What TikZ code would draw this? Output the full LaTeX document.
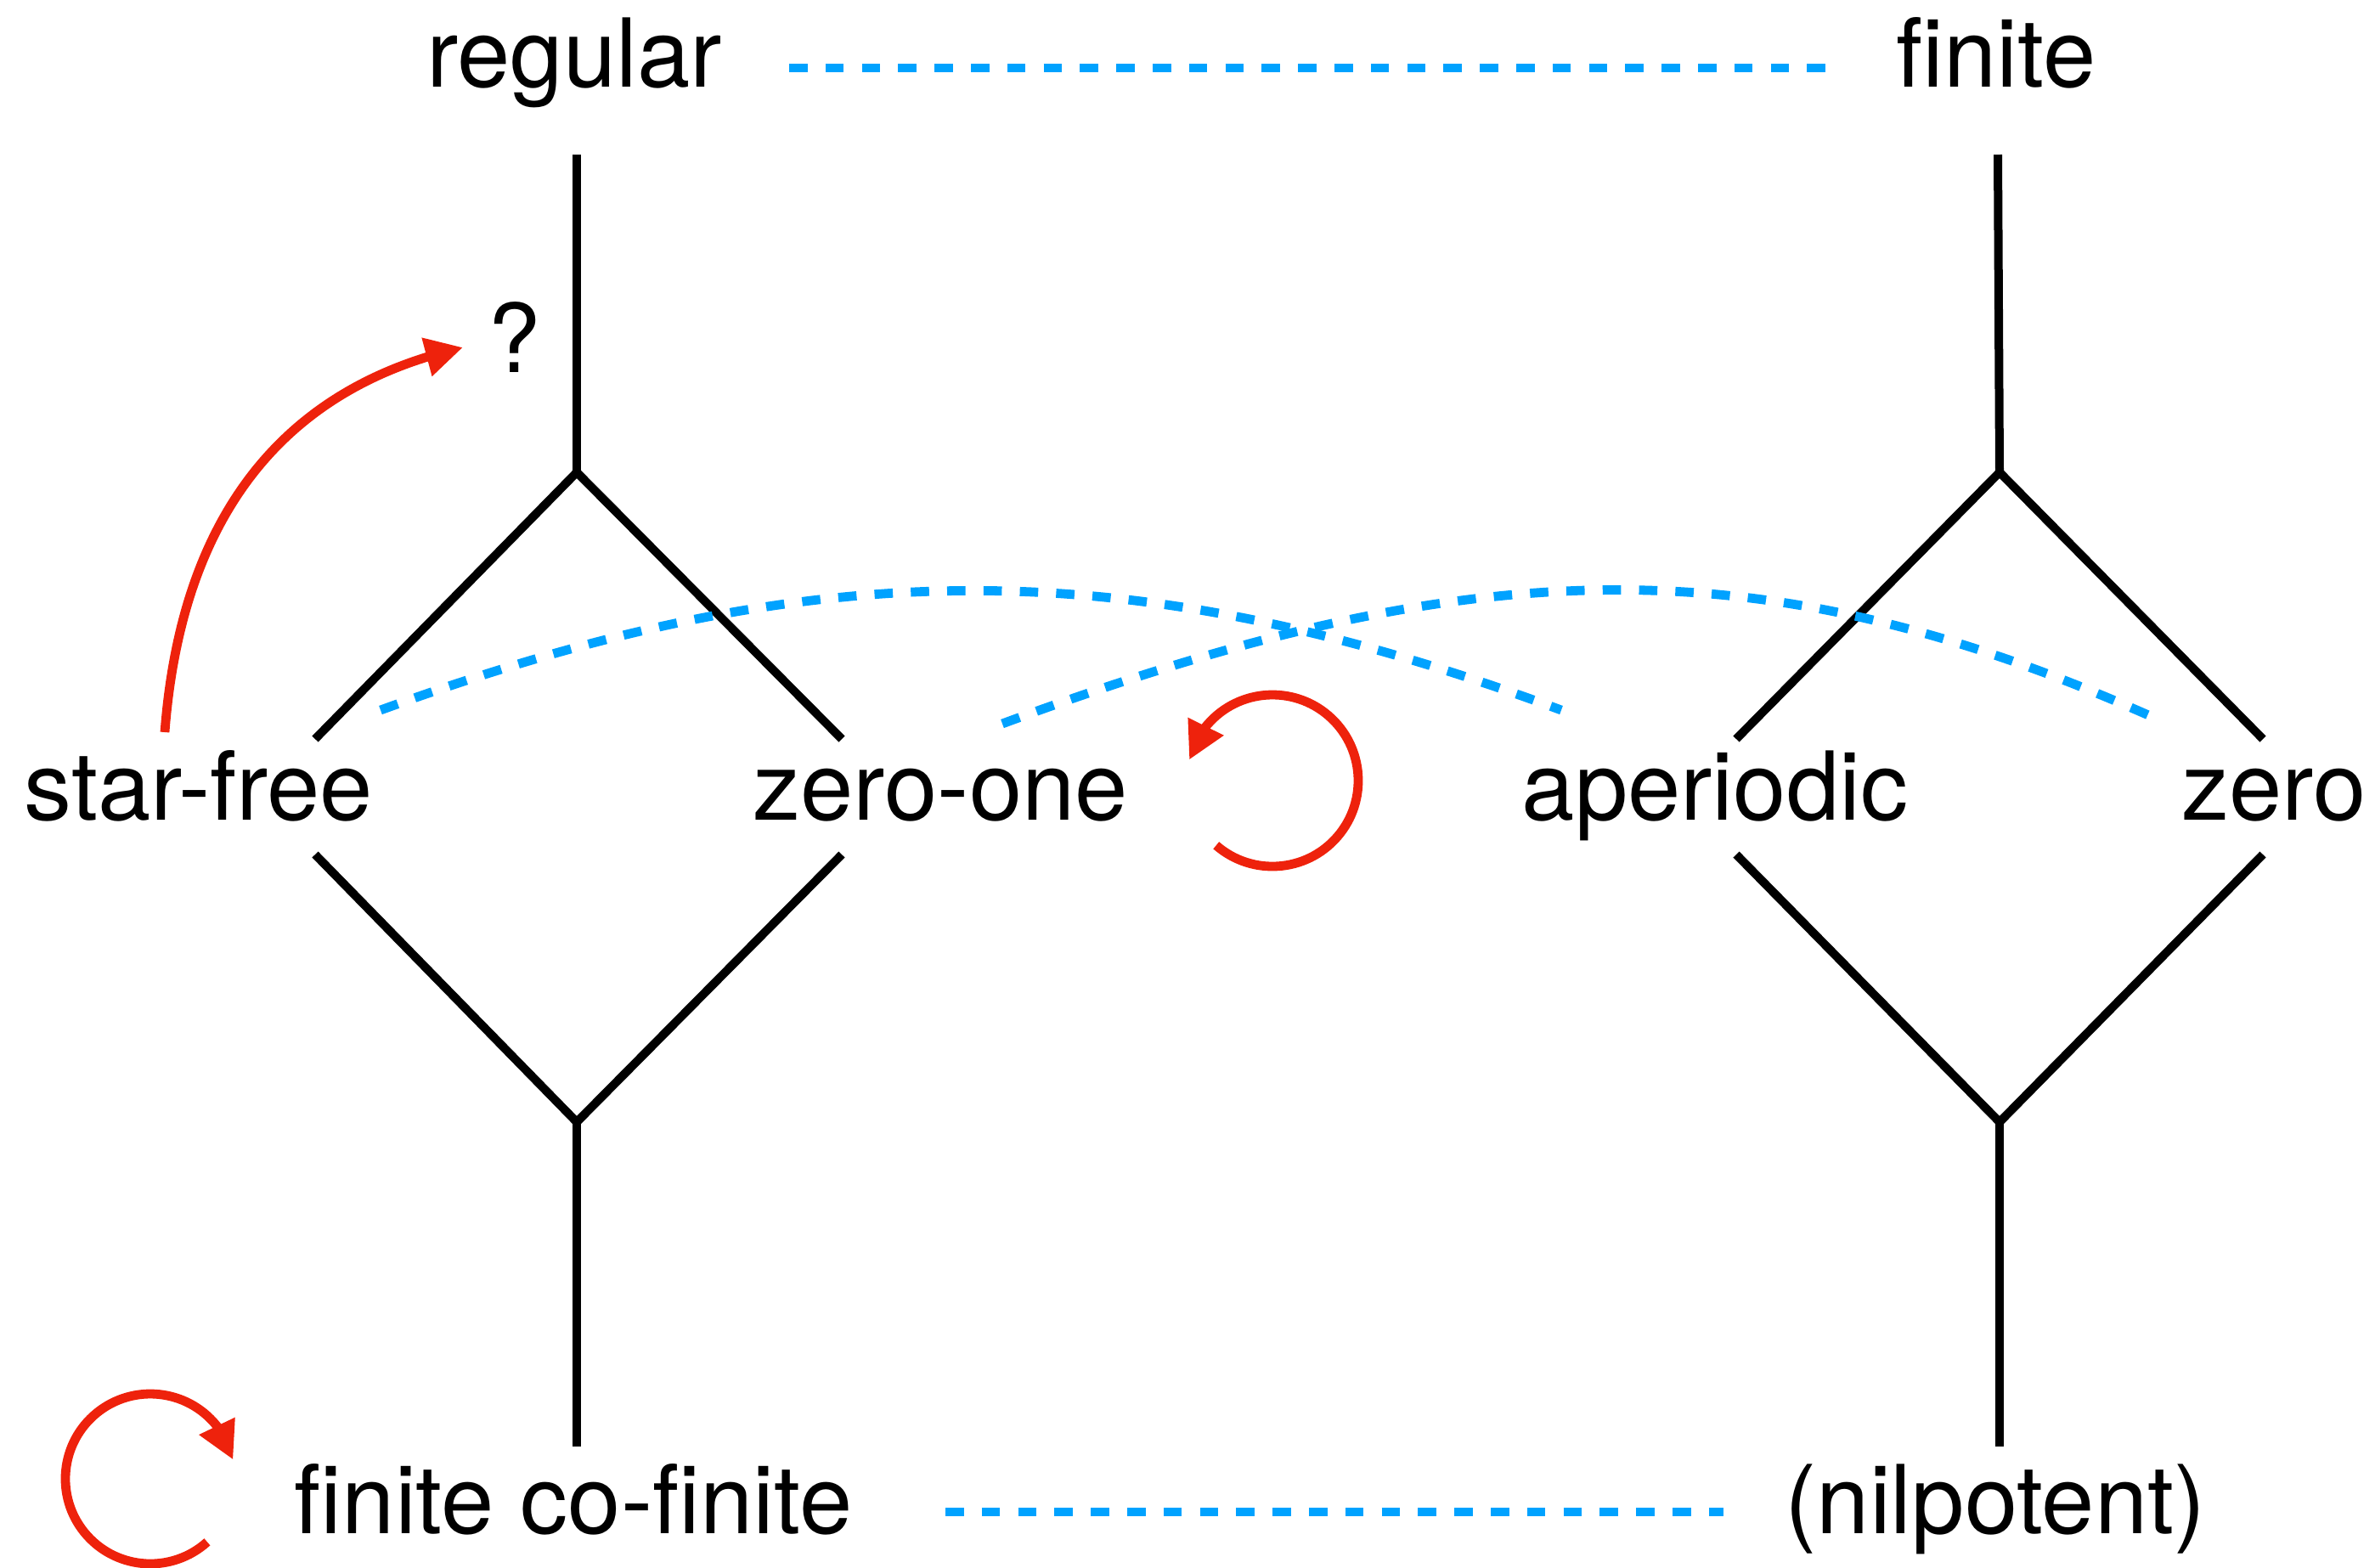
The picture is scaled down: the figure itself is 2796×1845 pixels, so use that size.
\documentclass[tikz,border=0pt]{standalone}
\usepackage{fontspec}
\setmainfont{TeX Gyre Heros}
\usetikzlibrary{arrows.meta,bending}
\definecolor{lineblue}{HTML}{00A2FF}
\definecolor{arrowred}{HTML}{EE220C}
\begin{document}
\begin{tikzpicture}[x=0.25pt,y=-0.25pt,
  lbl/.style={font=\fontsize{28}{33}\selectfont, inner sep=0pt, anchor=base},
  edge/.style={line width=2.5pt, black, line join=miter},
  rel/.style={line width=2.7pt, lineblue, dash pattern=on 5.4pt off 5.3pt},
  redarr/.style={line width=2.7pt, arrowred, -{Triangle[length=11pt,width=11pt]}}]
\useasboundingbox (0,0) rectangle (2796,1845);

% labels
\node[lbl] (reg) at (676,102) {regular};
\node[lbl] (fin) at (2350,102) {finite};
\node[lbl] (q) at (606,438) {?};
\node[lbl] (sf) at (234,965) {star-free};
\node[lbl] (zo) at (1107,965) {zero-one};
\node[lbl] (ap) at (2019,965) {aperiodic};
\node[lbl] (ze) at (2677,965) {zero};
\node[lbl] (fcf) at (675,1805) {finite co-finite};
\node[lbl] (nil) at (2349,1805) {(nilpotent)};

% left lattice
\coordinate (LT) at (679,182);
\coordinate (LA) at (679,556);
\coordinate (LL1) at (371,870);
\coordinate (LR1) at (991,870);
\coordinate (LL2) at (371,1006);
\coordinate (LR2) at (991,1006);
\coordinate (LB) at (679,1321);
\coordinate (LE) at (679,1703);
\draw[edge] (LT) -- (LA);
\draw[edge] (LL1) -- (LA) -- (LR1);
\draw[edge] (LL2) -- (LB) -- (LR2);
\draw[edge] (LB) -- (LE);

% right lattice
\coordinate (RT) at (2352,182);
\coordinate (RA) at (2354,556);
\coordinate (RL1) at (2044,870);
\coordinate (RR1) at (2664,870);
\coordinate (RL2) at (2044,1006);
\coordinate (RR2) at (2664,1006);
\coordinate (RB) at (2354,1321);
\coordinate (RE) at (2354,1703);
\draw[edge] (RT) -- (RA);
\draw[edge] (RL1) -- (RA) -- (RR1);
\draw[edge] (RL2) -- (RB) -- (RR2);
\draw[edge] (RB) -- (RE);

% blue correspondences
\coordinate (t1) at (929,80);
\coordinate (t2) at (2170,80);
\draw[rel] (t1) -- (t2);
\coordinate (b1) at (1113,1780);
\coordinate (b2) at (2029,1780);
\draw[rel] (b1) -- (b2);
\coordinate (c1s) at (448,836);
\coordinate (c1e) at (1838,836);
\draw[rel] (c1s) .. controls (959,650) and (1327,647) .. (c1e);
\coordinate (c2s) at (1180,852);
\coordinate (c2e) at (2545,849);
\draw[rel] (c2s) .. controls (1740,645) and (2080,640) .. (c2e);

% red arrows
\coordinate (a1s) at (194,862);
\coordinate (a1e) at (545,409);
\draw[redarr] (a1s) .. controls (214,600) and (340,455) .. (a1e);
\coordinate (loopA) at (1498,919);
\draw[redarr] (loopA) ++(-229:101) arc[start angle=-229, end angle=-526, radius=101];
\coordinate (loopB) at (177,1741);
\draw[redarr] (loopB) ++(-312:100) arc[start angle=-312, end angle=-13, radius=100];
\end{tikzpicture}
\end{document}
